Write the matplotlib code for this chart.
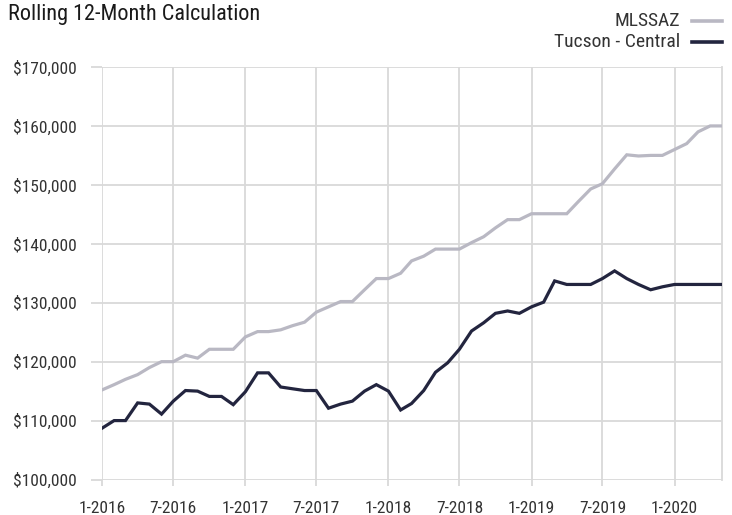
#!/usr/bin/env python3
"""Rolling 12-month median price: MLSSAZ vs Tucson - Central."""

import matplotlib

matplotlib.use("Agg")
import matplotlib.pyplot as plt
import matplotlib.dates as mdates
from matplotlib.lines import Line2D
import pandas as pd

plt.rcParams["font.family"] = ["Roboto Condensed", "Liberation Sans Narrow", "Liberation Sans",
                               "DejaVu Sans"]

MONTHS = pd.date_range("2016-01-01", "2020-05-01", freq="MS")

MLSSAZ = [
    115200, 116100, 117000, 117800, 119000, 120000, 120000, 121100, 120600, 122100, 122100, 122100,
    124200, 125100, 125100, 125400, 126100, 126700, 128400, 129300, 130200, 130200, 132200, 134100,
    134100, 135000, 137100, 137900, 139100, 139100, 139100, 140200, 141200, 142700, 144100, 144100,
    145100, 145100, 145100, 145100, 147200, 149300, 150200, 152700, 155100, 154900, 155000, 155000,
    156000, 157000, 159000, 160000, 160000,
]
TUCSON_CENTRAL = [
    108700, 110000, 110000, 113000, 112800, 111100, 113300, 115100, 115000, 114100, 114100, 112700,
    114900, 118100, 118100, 115700, 115400, 115100, 115100, 112100, 112800, 113300, 115000, 116100,
    115000, 111800, 112900, 115100, 118200, 119800, 122100, 125200, 126600, 128200, 128600, 128200,
    129300, 130100, 133700, 133100, 133100, 133100, 134100, 135400, 134100, 133100, 132200, 132700,
    133100, 133100, 133100, 133100, 133100,
]
Y_TICKS = [100000, 110000, 120000, 130000, 140000, 150000, 160000, 170000]

GRID = "#d9d9d9"
LIGHT = "#b9b8c3"
DARK = "#23253f"
TEXT = "#333333"

fig = plt.figure(figsize=(7.32, 5.15), dpi=100)
ax = fig.add_axes([0.1393, 0.0689, 0.8470, 0.8010])

ax.plot(MONTHS, MLSSAZ, c=LIGHT, lw=2.3, solid_joinstyle="miter", zorder=3)
ax.plot(MONTHS, TUCSON_CENTRAL, c=DARK, lw=2.3, solid_joinstyle="miter", zorder=4)

ax.set_xlim(MONTHS[0], MONTHS[-1])
ax.set_ylim(Y_TICKS[0], Y_TICKS[-1])
ax.set_yticks(Y_TICKS)
ax.yaxis.set_major_formatter(lambda v, p: f"${v:,.0f}")
ax.xaxis.set_major_locator(mdates.MonthLocator(bymonth=[1, 7]))
ax.xaxis.set_major_formatter(lambda v, p: f"{mdates.num2date(v).month}-{mdates.num2date(v).year}")

ax.grid(True, color=GRID, lw=1.3, zorder=0)
for side in ["top", "left", "bottom"]:
    ax.spines[side].set_visible(False)
ax.spines["right"].set_color(GRID)
ax.spines["right"].set_linewidth(1.3)
ax.tick_params(width=1.3, color=GRID, labelcolor=TEXT, labelsize=12.5)
ax.tick_params(axis="y", length=8, pad=10.5)
ax.tick_params(axis="x", length=4.5, pad=11)
ax.set_axisbelow(True)

fig.text(0.011, 0.972, "Rolling 12-Month Calculation", fontsize=16, color="#1a1a1a",
         ha="left", va="center")

# legend, right aligned text with swatch on the right
for y, label, col in [(0.960, "MLSSAZ", LIGHT), (0.9175, "Tucson - Central", DARK)]:
    fig.text(0.929, y, label, fontsize=14, color=TEXT, ha="right", va="center")
    fig.add_artist(Line2D([0.945, 0.986], [y, y], c=col, lw=2.6,
                          transform=fig.transFigure))

fig.savefig("out.png", dpi=100)
